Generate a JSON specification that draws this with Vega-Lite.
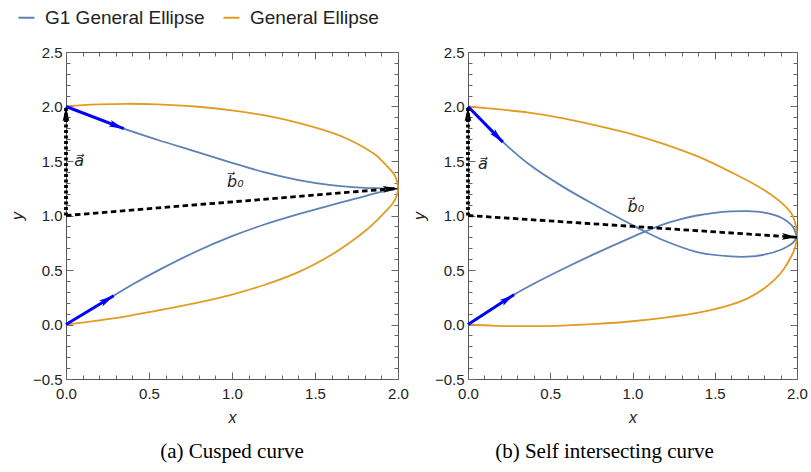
{
  "$schema": "https://vega.github.io/schema/vega-lite/v6.json",
  "background": "white",
  "padding": {"left": 8, "top": 8, "right": 5, "bottom": 5},
  "spacing": 1,
  "config": {
    "view": {"stroke": "#555", "strokeWidth": 1},
    "axis": {"labelFont": "Liberation Sans", "labelFontSize": 15, "labelColor": "#222", "titleFont": "Liberation Sans", "titleFontSize": 16, "titleFontWeight": "normal", "titleColor": "#222", "tickColor": "#666", "tickWidth": 1, "grid": false},
    "title": {"font": "Liberation Serif", "fontSize": 21, "fontWeight": "normal", "color": "#000"}
  },
  "datasets": {
    "curves": [
      {"panel": "a", "series": "General Ellipse", "seg": "e", "i": 0, "x": 0, "y": 2.0},
      {"panel": "a", "series": "General Ellipse", "seg": "e", "i": 1, "x": 0.1, "y": 2.012},
      {"panel": "a", "series": "General Ellipse", "seg": "e", "i": 2, "x": 0.2, "y": 2.02},
      {"panel": "a", "series": "General Ellipse", "seg": "e", "i": 3, "x": 0.37, "y": 2.025},
      {"panel": "a", "series": "General Ellipse", "seg": "e", "i": 4, "x": 0.55, "y": 2.02},
      {"panel": "a", "series": "General Ellipse", "seg": "e", "i": 5, "x": 0.78, "y": 2.0},
      {"panel": "a", "series": "General Ellipse", "seg": "e", "i": 6, "x": 1.0, "y": 1.965},
      {"panel": "a", "series": "General Ellipse", "seg": "e", "i": 7, "x": 1.19, "y": 1.92},
      {"panel": "a", "series": "General Ellipse", "seg": "e", "i": 8, "x": 1.4, "y": 1.85},
      {"panel": "a", "series": "General Ellipse", "seg": "e", "i": 9, "x": 1.6, "y": 1.76},
      {"panel": "a", "series": "General Ellipse", "seg": "e", "i": 10, "x": 1.7, "y": 1.7},
      {"panel": "a", "series": "General Ellipse", "seg": "e", "i": 11, "x": 1.8, "y": 1.62},
      {"panel": "a", "series": "General Ellipse", "seg": "e", "i": 12, "x": 1.87, "y": 1.55},
      {"panel": "a", "series": "General Ellipse", "seg": "e", "i": 13, "x": 1.92, "y": 1.475},
      {"panel": "a", "series": "General Ellipse", "seg": "e", "i": 14, "x": 1.966, "y": 1.4},
      {"panel": "a", "series": "General Ellipse", "seg": "e", "i": 15, "x": 1.986, "y": 1.35},
      {"panel": "a", "series": "General Ellipse", "seg": "e", "i": 16, "x": 1.996, "y": 1.3},
      {"panel": "a", "series": "General Ellipse", "seg": "e", "i": 17, "x": 2.0, "y": 1.25},
      {"panel": "a", "series": "General Ellipse", "seg": "e", "i": 18, "x": 1.996, "y": 1.2},
      {"panel": "a", "series": "General Ellipse", "seg": "e", "i": 19, "x": 1.986, "y": 1.16},
      {"panel": "a", "series": "General Ellipse", "seg": "e", "i": 20, "x": 1.966, "y": 1.105},
      {"panel": "a", "series": "General Ellipse", "seg": "e", "i": 21, "x": 1.924, "y": 1.036},
      {"panel": "a", "series": "General Ellipse", "seg": "e", "i": 22, "x": 1.87, "y": 0.95},
      {"panel": "a", "series": "General Ellipse", "seg": "e", "i": 23, "x": 1.8, "y": 0.855},
      {"panel": "a", "series": "General Ellipse", "seg": "e", "i": 24, "x": 1.7, "y": 0.74},
      {"panel": "a", "series": "General Ellipse", "seg": "e", "i": 25, "x": 1.6, "y": 0.64},
      {"panel": "a", "series": "General Ellipse", "seg": "e", "i": 26, "x": 1.4, "y": 0.48},
      {"panel": "a", "series": "General Ellipse", "seg": "e", "i": 27, "x": 1.19, "y": 0.36},
      {"panel": "a", "series": "General Ellipse", "seg": "e", "i": 28, "x": 1.0, "y": 0.275},
      {"panel": "a", "series": "General Ellipse", "seg": "e", "i": 29, "x": 0.78, "y": 0.195},
      {"panel": "a", "series": "General Ellipse", "seg": "e", "i": 30, "x": 0.55, "y": 0.128},
      {"panel": "a", "series": "General Ellipse", "seg": "e", "i": 31, "x": 0.37, "y": 0.077},
      {"panel": "a", "series": "General Ellipse", "seg": "e", "i": 32, "x": 0.2, "y": 0.038},
      {"panel": "a", "series": "General Ellipse", "seg": "e", "i": 33, "x": 0.1, "y": 0.018},
      {"panel": "a", "series": "General Ellipse", "seg": "e", "i": 34, "x": 0, "y": 0},

      {"panel": "a", "series": "G1 General Ellipse", "seg": "u", "i": 0, "x": 0, "y": 2.0},
      {"panel": "a", "series": "G1 General Ellipse", "seg": "u", "i": 1, "x": 0.2, "y": 1.884},
      {"panel": "a", "series": "G1 General Ellipse", "seg": "u", "i": 2, "x": 0.348, "y": 1.797},
      {"panel": "a", "series": "G1 General Ellipse", "seg": "u", "i": 3, "x": 0.55, "y": 1.695},
      {"panel": "a", "series": "G1 General Ellipse", "seg": "u", "i": 4, "x": 0.778, "y": 1.588},
      {"panel": "a", "series": "G1 General Ellipse", "seg": "u", "i": 5, "x": 1.0, "y": 1.483},
      {"panel": "a", "series": "G1 General Ellipse", "seg": "u", "i": 6, "x": 1.187, "y": 1.4},
      {"panel": "a", "series": "G1 General Ellipse", "seg": "u", "i": 7, "x": 1.4, "y": 1.325},
      {"panel": "a", "series": "G1 General Ellipse", "seg": "u", "i": 8, "x": 1.597, "y": 1.279},
      {"panel": "a", "series": "G1 General Ellipse", "seg": "u", "i": 9, "x": 1.75, "y": 1.258},
      {"panel": "a", "series": "G1 General Ellipse", "seg": "u", "i": 10, "x": 1.9, "y": 1.249},
      {"panel": "a", "series": "G1 General Ellipse", "seg": "u", "i": 11, "x": 2.0, "y": 1.245},

      {"panel": "a", "series": "G1 General Ellipse", "seg": "l", "i": 0, "x": 0, "y": 0},
      {"panel": "a", "series": "G1 General Ellipse", "seg": "l", "i": 1, "x": 0.287, "y": 0.264},
      {"panel": "a", "series": "G1 General Ellipse", "seg": "l", "i": 2, "x": 0.4, "y": 0.367},
      {"panel": "a", "series": "G1 General Ellipse", "seg": "l", "i": 3, "x": 0.573, "y": 0.51},
      {"panel": "a", "series": "G1 General Ellipse", "seg": "l", "i": 4, "x": 0.778, "y": 0.665},
      {"panel": "a", "series": "G1 General Ellipse", "seg": "l", "i": 5, "x": 1.0, "y": 0.81},
      {"panel": "a", "series": "G1 General Ellipse", "seg": "l", "i": 6, "x": 1.187, "y": 0.913},
      {"panel": "a", "series": "G1 General Ellipse", "seg": "l", "i": 7, "x": 1.4, "y": 1.012},
      {"panel": "a", "series": "G1 General Ellipse", "seg": "l", "i": 8, "x": 1.597, "y": 1.095},
      {"panel": "a", "series": "G1 General Ellipse", "seg": "l", "i": 9, "x": 1.75, "y": 1.157},
      {"panel": "a", "series": "G1 General Ellipse", "seg": "l", "i": 10, "x": 1.904, "y": 1.218},
      {"panel": "a", "series": "G1 General Ellipse", "seg": "l", "i": 11, "x": 2.0, "y": 1.245},

      {"panel": "b", "series": "General Ellipse", "seg": "e", "i": 0, "x": 0, "y": 2.0},
      {"panel": "b", "series": "General Ellipse", "seg": "e", "i": 1, "x": 0.18, "y": 1.975},
      {"panel": "b", "series": "General Ellipse", "seg": "e", "i": 2, "x": 0.371, "y": 1.944},
      {"panel": "b", "series": "General Ellipse", "seg": "e", "i": 3, "x": 0.58, "y": 1.892},
      {"panel": "b", "series": "General Ellipse", "seg": "e", "i": 4, "x": 0.78, "y": 1.826},
      {"panel": "b", "series": "General Ellipse", "seg": "e", "i": 5, "x": 1.0, "y": 1.745},
      {"panel": "b", "series": "General Ellipse", "seg": "e", "i": 6, "x": 1.188, "y": 1.658},
      {"panel": "b", "series": "General Ellipse", "seg": "e", "i": 7, "x": 1.4, "y": 1.54},
      {"panel": "b", "series": "General Ellipse", "seg": "e", "i": 8, "x": 1.596, "y": 1.4},
      {"panel": "b", "series": "General Ellipse", "seg": "e", "i": 9, "x": 1.8, "y": 1.233},
      {"panel": "b", "series": "General Ellipse", "seg": "e", "i": 10, "x": 1.92, "y": 1.097},
      {"panel": "b", "series": "General Ellipse", "seg": "e", "i": 11, "x": 1.973, "y": 1.0},
      {"panel": "b", "series": "General Ellipse", "seg": "e", "i": 12, "x": 1.993, "y": 0.9},
      {"panel": "b", "series": "General Ellipse", "seg": "e", "i": 13, "x": 2.0, "y": 0.8},
      {"panel": "b", "series": "General Ellipse", "seg": "e", "i": 14, "x": 1.985, "y": 0.69},
      {"panel": "b", "series": "General Ellipse", "seg": "e", "i": 15, "x": 1.96, "y": 0.61},
      {"panel": "b", "series": "General Ellipse", "seg": "e", "i": 16, "x": 1.92, "y": 0.51},
      {"panel": "b", "series": "General Ellipse", "seg": "e", "i": 17, "x": 1.87, "y": 0.42},
      {"panel": "b", "series": "General Ellipse", "seg": "e", "i": 18, "x": 1.8, "y": 0.33},
      {"panel": "b", "series": "General Ellipse", "seg": "e", "i": 19, "x": 1.7, "y": 0.24},
      {"panel": "b", "series": "General Ellipse", "seg": "e", "i": 20, "x": 1.596, "y": 0.18},
      {"panel": "b", "series": "General Ellipse", "seg": "e", "i": 21, "x": 1.4, "y": 0.108},
      {"panel": "b", "series": "General Ellipse", "seg": "e", "i": 22, "x": 1.188, "y": 0.061},
      {"panel": "b", "series": "General Ellipse", "seg": "e", "i": 23, "x": 1.0, "y": 0.03},
      {"panel": "b", "series": "General Ellipse", "seg": "e", "i": 24, "x": 0.78, "y": 0.005},
      {"panel": "b", "series": "General Ellipse", "seg": "e", "i": 25, "x": 0.58, "y": -0.01},
      {"panel": "b", "series": "General Ellipse", "seg": "e", "i": 26, "x": 0.371, "y": -0.015},
      {"panel": "b", "series": "General Ellipse", "seg": "e", "i": 27, "x": 0.167, "y": -0.012},
      {"panel": "b", "series": "General Ellipse", "seg": "e", "i": 28, "x": 0, "y": 0},

      {"panel": "b", "series": "G1 General Ellipse", "seg": "u", "i": 0, "x": 0, "y": 2.0},
      {"panel": "b", "series": "G1 General Ellipse", "seg": "u", "i": 1, "x": 0.1, "y": 1.846},
      {"panel": "b", "series": "G1 General Ellipse", "seg": "u", "i": 2, "x": 0.212, "y": 1.675},
      {"panel": "b", "series": "G1 General Ellipse", "seg": "u", "i": 3, "x": 0.371, "y": 1.47},
      {"panel": "b", "series": "G1 General Ellipse", "seg": "u", "i": 4, "x": 0.576, "y": 1.265},
      {"panel": "b", "series": "G1 General Ellipse", "seg": "u", "i": 5, "x": 0.78, "y": 1.09},
      {"panel": "b", "series": "G1 General Ellipse", "seg": "u", "i": 6, "x": 0.984, "y": 0.925},
      {"panel": "b", "series": "G1 General Ellipse", "seg": "u", "i": 7, "x": 1.076, "y": 0.853},
      {"panel": "b", "series": "G1 General Ellipse", "seg": "u", "i": 8, "x": 1.188, "y": 0.773},
      {"panel": "b", "series": "G1 General Ellipse", "seg": "u", "i": 9, "x": 1.392, "y": 0.665},
      {"panel": "b", "series": "G1 General Ellipse", "seg": "u", "i": 10, "x": 1.596, "y": 0.625},
      {"panel": "b", "series": "G1 General Ellipse", "seg": "u", "i": 11, "x": 1.698, "y": 0.622},
      {"panel": "b", "series": "G1 General Ellipse", "seg": "u", "i": 12, "x": 1.8, "y": 0.64},
      {"panel": "b", "series": "G1 General Ellipse", "seg": "u", "i": 13, "x": 1.902, "y": 0.686},
      {"panel": "b", "series": "G1 General Ellipse", "seg": "u", "i": 14, "x": 1.973, "y": 0.747},
      {"panel": "b", "series": "G1 General Ellipse", "seg": "u", "i": 15, "x": 2.0, "y": 0.8},

      {"panel": "b", "series": "G1 General Ellipse", "seg": "l", "i": 0, "x": 0, "y": 0},
      {"panel": "b", "series": "G1 General Ellipse", "seg": "l", "i": 1, "x": 0.14, "y": 0.137},
      {"panel": "b", "series": "G1 General Ellipse", "seg": "l", "i": 2, "x": 0.28, "y": 0.274},
      {"panel": "b", "series": "G1 General Ellipse", "seg": "l", "i": 3, "x": 0.42, "y": 0.39},
      {"panel": "b", "series": "G1 General Ellipse", "seg": "l", "i": 4, "x": 0.571, "y": 0.505},
      {"panel": "b", "series": "G1 General Ellipse", "seg": "l", "i": 5, "x": 0.78, "y": 0.655},
      {"panel": "b", "series": "G1 General Ellipse", "seg": "l", "i": 6, "x": 0.984, "y": 0.793},
      {"panel": "b", "series": "G1 General Ellipse", "seg": "l", "i": 7, "x": 1.076, "y": 0.852},
      {"panel": "b", "series": "G1 General Ellipse", "seg": "l", "i": 8, "x": 1.188, "y": 0.918},
      {"panel": "b", "series": "G1 General Ellipse", "seg": "l", "i": 9, "x": 1.3, "y": 0.968},
      {"panel": "b", "series": "G1 General Ellipse", "seg": "l", "i": 10, "x": 1.392, "y": 1.0},
      {"panel": "b", "series": "G1 General Ellipse", "seg": "l", "i": 11, "x": 1.5, "y": 1.025},
      {"panel": "b", "series": "G1 General Ellipse", "seg": "l", "i": 12, "x": 1.596, "y": 1.037},
      {"panel": "b", "series": "G1 General Ellipse", "seg": "l", "i": 13, "x": 1.698, "y": 1.04},
      {"panel": "b", "series": "G1 General Ellipse", "seg": "l", "i": 14, "x": 1.8, "y": 1.027},
      {"panel": "b", "series": "G1 General Ellipse", "seg": "l", "i": 15, "x": 1.902, "y": 0.982},
      {"panel": "b", "series": "G1 General Ellipse", "seg": "l", "i": 16, "x": 1.973, "y": 0.9},
      {"panel": "b", "series": "G1 General Ellipse", "seg": "l", "i": 17, "x": 2.0, "y": 0.8}
    ],
    "segs": [
      {"panel": "a", "kind": "blue", "seg": "u", "i": 0, "x": 0, "y": 2.0},
      {"panel": "a", "kind": "blue", "seg": "u", "i": 1, "x": 0.348, "y": 1.797},
      {"panel": "a", "kind": "blue", "seg": "l", "i": 0, "x": 0, "y": 0},
      {"panel": "a", "kind": "blue", "seg": "l", "i": 1, "x": 0.287, "y": 0.264},
      {"panel": "a", "kind": "b0", "seg": "b", "i": 0, "x": 0, "y": 1.0},
      {"panel": "a", "kind": "b0", "seg": "b", "i": 1, "x": 2.0, "y": 1.25},
      {"panel": "a", "kind": "a", "seg": "a", "i": 0, "x": 0, "y": 1.0},
      {"panel": "a", "kind": "a", "seg": "a", "i": 1, "x": 0, "y": 2.0},
      {"panel": "b", "kind": "blue", "seg": "u", "i": 0, "x": 0, "y": 2.0},
      {"panel": "b", "kind": "blue", "seg": "u", "i": 1, "x": 0.212, "y": 1.673},
      {"panel": "b", "kind": "blue", "seg": "l", "i": 0, "x": 0, "y": 0},
      {"panel": "b", "kind": "blue", "seg": "l", "i": 1, "x": 0.28, "y": 0.274},
      {"panel": "b", "kind": "b0", "seg": "b", "i": 0, "x": 0, "y": 1.0},
      {"panel": "b", "kind": "b0", "seg": "b", "i": 1, "x": 2.0, "y": 0.8},
      {"panel": "b", "kind": "a", "seg": "a", "i": 0, "x": 0, "y": 1.0},
      {"panel": "b", "kind": "a", "seg": "a", "i": 1, "x": 0, "y": 2.0}
    ],
    "heads": [
      {"panel": "a", "kind": "blue", "x": 0.348, "y": 1.797, "angle": 110.9},
      {"panel": "a", "kind": "blue", "x": 0.287, "y": 0.264, "angle": 58.8},
      {"panel": "a", "kind": "black", "x": 0, "y": 2.0, "angle": 0},
      {"panel": "a", "kind": "black", "x": 2.0, "y": 1.25, "angle": 85.3},
      {"panel": "b", "kind": "blue", "x": 0.212, "y": 1.673, "angle": 135.6},
      {"panel": "b", "kind": "blue", "x": 0.28, "y": 0.274, "angle": 57},
      {"panel": "b", "kind": "black", "x": 0, "y": 2.0, "angle": 0},
      {"panel": "b", "kind": "black", "x": 2.0, "y": 0.8, "angle": 93.8}
    ],
    "labels": [
      {"panel": "a", "text": "a⃗", "x": 0.08, "y": 1.5},
      {"panel": "a", "text": "b⃗₀", "x": 1.02, "y": 1.31},
      {"panel": "b", "text": "a⃗", "x": 0.09, "y": 1.47},
      {"panel": "b", "text": "b⃗₀", "x": 1.02, "y": 1.08}
    ]
  },
  "hconcat": [
    {
      "width": 332,
      "height": 327,
      "title": {"text": "(a) Cusped curve", "orient": "bottom", "anchor": "middle", "offset": 16},
      "resolve": {"axis": {"x": "independent", "y": "independent"}},
      "layer": [
        {
          "data": {"name": "curves"},
          "transform": [{"filter": "datum.panel === 'a'"}],
          "mark": {"type": "line", "strokeWidth": 1.8, "clip": false, "interpolate": "catmull-rom"},
          "encoding": {
            "x": {"field": "x", "type": "quantitative", "scale": {"domain": [0, 2], "nice": false, "zero": false},
                  "axis": {"orient": "bottom", "values": [0, 0.5, 1, 1.5, 2], "format": ".1f", "ticks": false, "domain": false, "labelFlush": false, "labelPadding": 7, "title": "x", "titleFontStyle": "italic", "titlePadding": 8}},
            "y": {"field": "y", "type": "quantitative", "scale": {"domain": [-0.5, 2.5], "nice": false, "zero": false},
                  "axis": {"orient": "left", "values": [-0.5, 0, 0.5, 1, 1.5, 2, 2.5], "format": ".1f", "ticks": false, "domain": false, "labelPadding": 4, "title": "y", "titleFontStyle": "italic", "titlePadding": 7}},
            "color": {"field": "series", "type": "nominal",
                      "scale": {"domain": ["G1 General Ellipse", "General Ellipse"], "range": ["#5e81b5", "#e19c24"]},
                      "legend": {"orient": "none", "legendX": -49, "legendY": -44, "direction": "horizontal", "title": null, "symbolType": "stroke", "symbolSize": 256, "symbolStrokeWidth": 2, "labelFont": "Liberation Sans", "labelFontSize": 19, "labelColor": "#222", "labelOffset": 9, "columnPadding": 14, "padding": 0}},
            "detail": {"field": "seg"},
            "order": {"field": "i", "type": "quantitative"}
          }
        },
        {
          "data": {"name": "segs"},
          "transform": [{"filter": "datum.panel === 'a' && datum.kind === 'blue'"}],
          "mark": {"type": "line", "color": "#0000ff", "strokeWidth": 3, "clip": false},
          "encoding": {
            "x": {"field": "x", "type": "quantitative", "scale": {"domain": [0, 2], "nice": false, "zero": false},
                  "axis": {"orient": "bottom", "values": [0, 0.5, 1, 1.5, 2], "labels": false, "domain": false, "tickSize": -7, "title": null}},
            "y": {"field": "y", "type": "quantitative", "scale": {"domain": [-0.5, 2.5], "nice": false, "zero": false},
                  "axis": {"orient": "left", "values": [-0.5, 0, 0.5, 1, 1.5, 2, 2.5], "labels": false, "domain": false, "tickSize": -7, "title": null}},
            "detail": {"field": "seg"},
            "order": {"field": "i", "type": "quantitative"}
          }
        },
        {
          "data": {"name": "segs"},
          "transform": [{"filter": "datum.panel === 'a' && datum.kind === 'b0'"}],
          "mark": {"type": "line", "color": "#000", "strokeWidth": 2.8, "strokeDash": [5.5, 3.5], "clip": false},
          "encoding": {
            "x": {"field": "x", "type": "quantitative", "scale": {"domain": [0, 2], "nice": false, "zero": false},
                  "axis": {"orient": "bottom", "values": [0.1, 0.2, 0.3, 0.4, 0.6, 0.7, 0.8, 0.9, 1.1, 1.2, 1.3, 1.4, 1.6, 1.7, 1.8, 1.9], "labels": false, "domain": false, "tickSize": -4, "title": null}},
            "y": {"field": "y", "type": "quantitative", "scale": {"domain": [-0.5, 2.5], "nice": false, "zero": false},
                  "axis": {"orient": "left", "values": [-0.4, -0.3, -0.2, -0.1, 0.1, 0.2, 0.3, 0.4, 0.6, 0.7, 0.8, 0.9, 1.1, 1.2, 1.3, 1.4, 1.6, 1.7, 1.8, 1.9, 2.1, 2.2, 2.3, 2.4], "labels": false, "domain": false, "tickSize": -4, "title": null}},
            "order": {"field": "i", "type": "quantitative"}
          }
        },
        {
          "data": {"name": "segs"},
          "transform": [{"filter": "datum.panel === 'a' && datum.kind === 'a'"}],
          "mark": {"type": "line", "color": "#000", "strokeWidth": 3.8, "strokeDash": [3, 2.5], "clip": false},
          "encoding": {
            "x": {"field": "x", "type": "quantitative", "scale": {"domain": [0, 2], "nice": false, "zero": false},
                  "axis": {"orient": "top", "values": [0, 0.5, 1, 1.5, 2], "labels": false, "domain": false, "tickSize": -7, "title": null}},
            "y": {"field": "y", "type": "quantitative", "scale": {"domain": [-0.5, 2.5], "nice": false, "zero": false},
                  "axis": {"orient": "right", "values": [-0.5, 0, 0.5, 1, 1.5, 2, 2.5], "labels": false, "domain": false, "tickSize": -7, "title": null}},
            "order": {"field": "i", "type": "quantitative"}
          }
        },
        {
          "data": {"name": "heads"},
          "transform": [{"filter": "datum.panel === 'a'"}],
          "mark": {"type": "point", "shape": "M0,0L-0.45,2L0,1.6L0.45,2Z", "filled": true, "size": 225, "opacity": 1, "strokeWidth": 0, "clip": false},
          "encoding": {
            "x": {"field": "x", "type": "quantitative", "scale": {"domain": [0, 2], "nice": false, "zero": false},
                  "axis": {"orient": "top", "values": [0.1, 0.2, 0.3, 0.4, 0.6, 0.7, 0.8, 0.9, 1.1, 1.2, 1.3, 1.4, 1.6, 1.7, 1.8, 1.9], "labels": false, "domain": false, "tickSize": -4, "title": null}},
            "y": {"field": "y", "type": "quantitative", "scale": {"domain": [-0.5, 2.5], "nice": false, "zero": false},
                  "axis": {"orient": "right", "values": [-0.4, -0.3, -0.2, -0.1, 0.1, 0.2, 0.3, 0.4, 0.6, 0.7, 0.8, 0.9, 1.1, 1.2, 1.3, 1.4, 1.6, 1.7, 1.8, 1.9, 2.1, 2.2, 2.3, 2.4], "labels": false, "domain": false, "tickSize": -4, "title": null}},
            "angle": {"field": "angle", "type": "quantitative", "scale": null},
            "fill": {"field": "kind", "type": "nominal", "scale": {"domain": ["blue", "black"], "range": ["#0000ff", "#000000"]}, "legend": null}
          }
        },
        {
          "data": {"name": "labels"},
          "transform": [{"filter": "datum.panel === 'a'"}],
          "mark": {"type": "text", "font": "DejaVu Sans", "fontStyle": "italic", "fontSize": 16, "color": "#222", "align": "center", "baseline": "middle"},
          "encoding": {
            "x": {"field": "x", "type": "quantitative", "axis": null},
            "y": {"field": "y", "type": "quantitative", "axis": null},
            "text": {"field": "text"}
          }
        }
      ]
    },
    {
      "width": 329,
      "height": 327,
      "title": {"text": "(b) Self intersecting curve", "orient": "bottom", "anchor": "middle", "offset": 16, "dx": -28},
      "resolve": {"axis": {"x": "independent", "y": "independent"}},
      "layer": [
        {
          "data": {"name": "curves"},
          "transform": [{"filter": "datum.panel === 'b'"}],
          "mark": {"type": "line", "strokeWidth": 1.8, "clip": false, "interpolate": "catmull-rom"},
          "encoding": {
            "x": {"field": "x", "type": "quantitative", "scale": {"domain": [0, 2], "nice": false, "zero": false},
                  "axis": {"orient": "bottom", "values": [0, 0.5, 1, 1.5, 2], "format": ".1f", "ticks": false, "domain": false, "labelFlush": false, "labelPadding": 7, "title": "x", "titleFontStyle": "italic", "titlePadding": 8}},
            "y": {"field": "y", "type": "quantitative", "scale": {"domain": [-0.5, 2.5], "nice": false, "zero": false},
                  "axis": {"orient": "left", "values": [-0.5, 0, 0.5, 1, 1.5, 2, 2.5], "format": ".1f", "ticks": false, "domain": false, "labelPadding": 4, "title": "y", "titleFontStyle": "italic", "titlePadding": 7}},
            "color": {"field": "series", "type": "nominal",
                      "scale": {"domain": ["G1 General Ellipse", "General Ellipse"], "range": ["#5e81b5", "#e19c24"]},
                      "legend": {"orient": "none", "legendX": -49, "legendY": -44, "direction": "horizontal", "title": null, "symbolType": "stroke", "symbolSize": 256, "symbolStrokeWidth": 2, "labelFont": "Liberation Sans", "labelFontSize": 19, "labelColor": "#222", "labelOffset": 9, "columnPadding": 14, "padding": 0}},
            "detail": {"field": "seg"},
            "order": {"field": "i", "type": "quantitative"}
          }
        },
        {
          "data": {"name": "segs"},
          "transform": [{"filter": "datum.panel === 'b' && datum.kind === 'blue'"}],
          "mark": {"type": "line", "color": "#0000ff", "strokeWidth": 3, "clip": false},
          "encoding": {
            "x": {"field": "x", "type": "quantitative", "scale": {"domain": [0, 2], "nice": false, "zero": false},
                  "axis": {"orient": "bottom", "values": [0, 0.5, 1, 1.5, 2], "labels": false, "domain": false, "tickSize": -7, "title": null}},
            "y": {"field": "y", "type": "quantitative", "scale": {"domain": [-0.5, 2.5], "nice": false, "zero": false},
                  "axis": {"orient": "left", "values": [-0.5, 0, 0.5, 1, 1.5, 2, 2.5], "labels": false, "domain": false, "tickSize": -7, "title": null}},
            "detail": {"field": "seg"},
            "order": {"field": "i", "type": "quantitative"}
          }
        },
        {
          "data": {"name": "segs"},
          "transform": [{"filter": "datum.panel === 'b' && datum.kind === 'b0'"}],
          "mark": {"type": "line", "color": "#000", "strokeWidth": 2.8, "strokeDash": [5.5, 3.5], "clip": false},
          "encoding": {
            "x": {"field": "x", "type": "quantitative", "scale": {"domain": [0, 2], "nice": false, "zero": false},
                  "axis": {"orient": "bottom", "values": [0.1, 0.2, 0.3, 0.4, 0.6, 0.7, 0.8, 0.9, 1.1, 1.2, 1.3, 1.4, 1.6, 1.7, 1.8, 1.9], "labels": false, "domain": false, "tickSize": -4, "title": null}},
            "y": {"field": "y", "type": "quantitative", "scale": {"domain": [-0.5, 2.5], "nice": false, "zero": false},
                  "axis": {"orient": "left", "values": [-0.4, -0.3, -0.2, -0.1, 0.1, 0.2, 0.3, 0.4, 0.6, 0.7, 0.8, 0.9, 1.1, 1.2, 1.3, 1.4, 1.6, 1.7, 1.8, 1.9, 2.1, 2.2, 2.3, 2.4], "labels": false, "domain": false, "tickSize": -4, "title": null}},
            "order": {"field": "i", "type": "quantitative"}
          }
        },
        {
          "data": {"name": "segs"},
          "transform": [{"filter": "datum.panel === 'b' && datum.kind === 'a'"}],
          "mark": {"type": "line", "color": "#000", "strokeWidth": 3.8, "strokeDash": [3, 2.5], "clip": false},
          "encoding": {
            "x": {"field": "x", "type": "quantitative", "scale": {"domain": [0, 2], "nice": false, "zero": false},
                  "axis": {"orient": "top", "values": [0, 0.5, 1, 1.5, 2], "labels": false, "domain": false, "tickSize": -7, "title": null}},
            "y": {"field": "y", "type": "quantitative", "scale": {"domain": [-0.5, 2.5], "nice": false, "zero": false},
                  "axis": {"orient": "right", "values": [-0.5, 0, 0.5, 1, 1.5, 2, 2.5], "labels": false, "domain": false, "tickSize": -7, "title": null}},
            "order": {"field": "i", "type": "quantitative"}
          }
        },
        {
          "data": {"name": "heads"},
          "transform": [{"filter": "datum.panel === 'b'"}],
          "mark": {"type": "point", "shape": "M0,0L-0.45,2L0,1.6L0.45,2Z", "filled": true, "size": 225, "opacity": 1, "strokeWidth": 0, "clip": false},
          "encoding": {
            "x": {"field": "x", "type": "quantitative", "scale": {"domain": [0, 2], "nice": false, "zero": false},
                  "axis": {"orient": "top", "values": [0.1, 0.2, 0.3, 0.4, 0.6, 0.7, 0.8, 0.9, 1.1, 1.2, 1.3, 1.4, 1.6, 1.7, 1.8, 1.9], "labels": false, "domain": false, "tickSize": -4, "title": null}},
            "y": {"field": "y", "type": "quantitative", "scale": {"domain": [-0.5, 2.5], "nice": false, "zero": false},
                  "axis": {"orient": "right", "values": [-0.4, -0.3, -0.2, -0.1, 0.1, 0.2, 0.3, 0.4, 0.6, 0.7, 0.8, 0.9, 1.1, 1.2, 1.3, 1.4, 1.6, 1.7, 1.8, 1.9, 2.1, 2.2, 2.3, 2.4], "labels": false, "domain": false, "tickSize": -4, "title": null}},
            "angle": {"field": "angle", "type": "quantitative", "scale": null},
            "fill": {"field": "kind", "type": "nominal", "scale": {"domain": ["blue", "black"], "range": ["#0000ff", "#000000"]}, "legend": null}
          }
        },
        {
          "data": {"name": "labels"},
          "transform": [{"filter": "datum.panel === 'b'"}],
          "mark": {"type": "text", "font": "DejaVu Sans", "fontStyle": "italic", "fontSize": 16, "color": "#222", "align": "center", "baseline": "middle"},
          "encoding": {
            "x": {"field": "x", "type": "quantitative", "axis": null},
            "y": {"field": "y", "type": "quantitative", "axis": null},
            "text": {"field": "text"}
          }
        }
      ]
    }
  ]
}
